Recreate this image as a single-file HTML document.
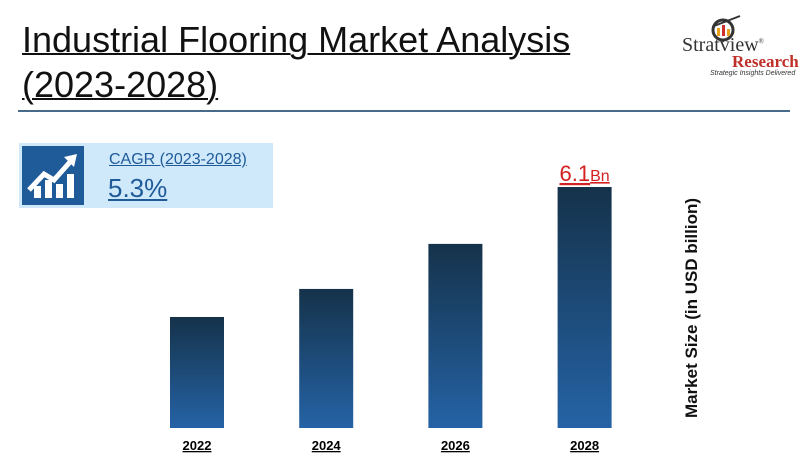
<!DOCTYPE html>
<html><head><meta charset="utf-8"><style>
body{margin:0;width:800px;height:462px;background:#fff;font-family:"Liberation Sans",sans-serif;position:relative;overflow:hidden}
.t{position:absolute;left:22px;font-size:36px;color:#111;text-decoration:underline;text-decoration-thickness:2px;line-height:44px}
</style></head><body>
<div class="t" style="top:18px">Industrial Flooring Market Analysis</div>
<div class="t" style="top:63px">(2023-2028)</div>
<div style="position:absolute;left:680px;top:14px;width:120px;height:70px">
<svg width="40" height="28" style="position:absolute;left:26px;top:0"><circle cx="17" cy="16" r="10" fill="none" stroke="#333" stroke-width="3"/><rect x="11" y="14" width="3" height="8" fill="#e8a020"/><rect x="16" y="11" width="3" height="11" fill="#d0302a"/><rect x="21" y="15" width="3" height="7" fill="#e8a020"/><line x1="8" y1="12" x2="34" y2="2" stroke="#333" stroke-width="2"/></svg>
<div style="position:absolute;left:2px;top:20px;font-family:'Liberation Serif',serif;font-size:20px;color:#333">Stratview<sup style="font-size:7px">®</sup></div>
<div style="position:absolute;left:52px;top:38px;font-family:'Liberation Serif',serif;font-size:17px;font-weight:bold;color:#c0302a">Research</div>
<div style="position:absolute;left:30px;top:56px;font-size:7px;font-style:italic;color:#333">Strategic Insights Delivered</div>
</div>
<div style="position:absolute;left:18px;top:110px;width:772px;height:2px;background:#4a6a8a"></div>
<div style="position:absolute;left:19px;top:143px;width:254px;height:65px;background:#cfe9fb">
<div style="position:absolute;left:3px;top:3px;width:62px;height:59px;background:#1f5a99">
<svg width="62" height="59"><g fill="#fff"><rect x="12" y="40" width="7" height="12"/><rect x="23" y="34" width="7" height="18"/><rect x="34" y="38" width="7" height="14"/><rect x="45" y="28" width="7" height="24"/></g><polyline points="7,44 22,28 32,34 48,16" fill="none" stroke="#fff" stroke-width="5"/><polygon points="42,11 55,8 52,21" fill="#fff"/></svg></div>
<div style="position:absolute;left:90px;top:8px;font-size:16px;color:#1f5a99;text-decoration:underline">CAGR (2023-2028)</div>
<div style="position:absolute;left:89px;top:30px;font-size:26px;color:#1f5a99;text-decoration:underline">5.3%</div>
</div>
<svg id="chart" width="800" height="462" style="position:absolute;left:0;top:0">
<defs><linearGradient id="g" x1="0" y1="0" x2="0" y2="1"><stop offset="0" stop-color="#15324a"/><stop offset="1" stop-color="#2563a6"/></linearGradient></defs>
<text x="697" y="308" transform="rotate(-90 697 308)" text-anchor="middle" font-size="17" font-weight="bold" fill="#111">Market Size (in USD billion)</text>
</svg>
<script>
const categories=["2022","2024","2026","2028"];
const values=[2.81,3.52,4.66,6.1];
const labels=["","","","6.1"];
const svg=document.getElementById('chart');const NS="http://www.w3.org/2000/svg";
const x0=170,step=129.2,bw=54,base=428,scale=241/6.1;
const y=v=>base-v*scale;
categories.forEach((c,i)=>{
 const x=x0+i*step;
 const r=document.createElementNS(NS,'rect');
 
 
 r.setAttribute('x',x);r.setAttribute('y',y(values[i]));r.setAttribute('width',bw);r.setAttribute('height',base-y(values[i]));r.setAttribute('fill','url(#g)');
 svg.appendChild(r);
 const t=document.createElementNS(NS,'text');
 
 
 t.setAttribute('x',x+bw/2);t.setAttribute('y',450);t.setAttribute('text-anchor','middle');t.setAttribute('font-size','13');t.setAttribute('font-weight','bold');t.setAttribute('text-decoration','underline');t.textContent=c;
 svg.appendChild(t);
 if(labels[i]){
  const l=document.createElementNS(NS,'text');
  
  
  l.setAttribute('x',x+bw/2);l.setAttribute('y',y(values[i])-6);l.setAttribute('text-anchor','middle');l.setAttribute('fill','#d42020');l.setAttribute('text-decoration','underline');
  l.innerHTML='<tspan font-size="22">'+labels[i]+'</tspan><tspan font-size="16">Bn</tspan>';
  svg.appendChild(l);
 }
});
</script>
</body></html>
